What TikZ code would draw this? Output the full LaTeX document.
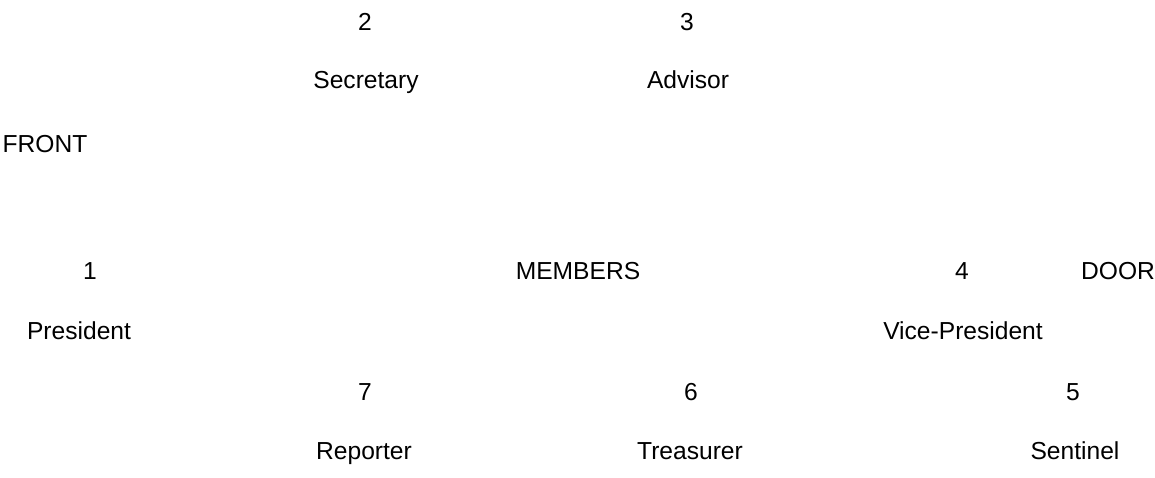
\documentclass[tikz,border=0pt]{standalone}
\usepackage{fontspec}
\setmainfont{Liberation Sans}
\usepackage{tikz}

\begin{document}
\begin{tikzpicture}[x=0.02cm, y=-0.02cm, every node/.style={inner sep=0pt, anchor=base, font=\fontsize{14}{16}\selectfont}]
\useasboundingbox (0,0) rectangle (1155,477);
\node (N2) at (365,30) {2};
\node (N3) at (687,30) {3};
\node (Sec) at (366,88) {Secretary};
\node (Adv) at (688,88) {Advisor};
\node (Front) at (45,152) {FRONT};
\node (N1) at (90,279) {1};
\node (Mem) at (578,279) {MEMBERS};
\node (N4) at (962,279) {4};
\node (Door) at (1118,279) {DOOR};
\node (Pres) at (79,339) {President};
\node (VP) at (963,339) {Vice-President};
\node (N7) at (365,400) {7};
\node (N6) at (691,400) {6};
\node (N5) at (1073,400) {5};
\node (Rep) at (364,459) {Reporter};
\node (Tre) at (690,459) {Treasurer};
\node (Sen) at (1075,459) {Sentinel};
\end{tikzpicture}
\end{document}
